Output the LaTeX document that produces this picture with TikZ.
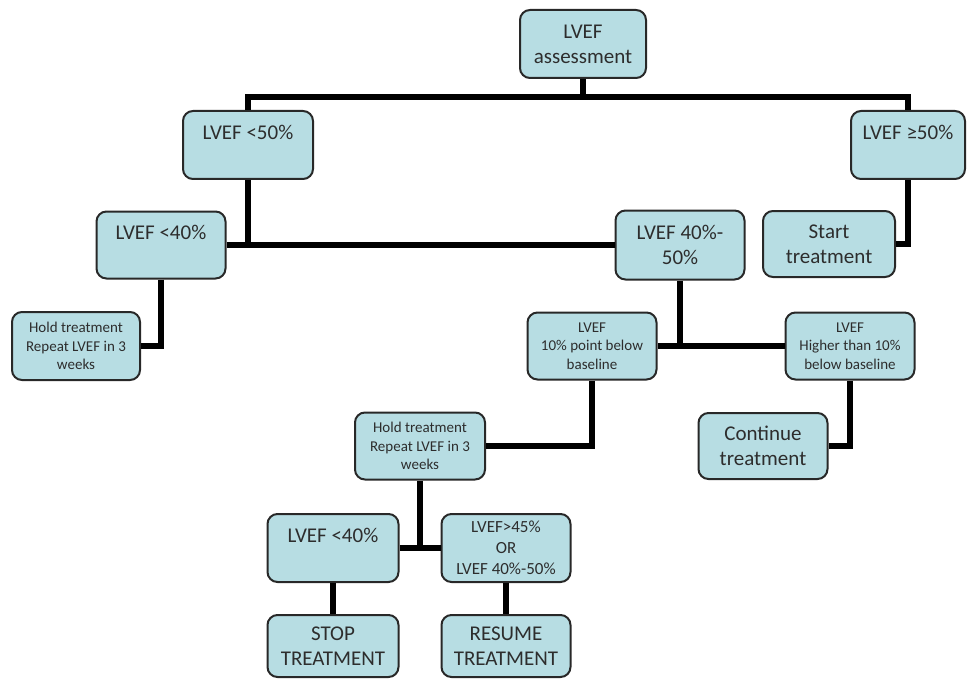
\documentclass[tikz,border=0pt]{standalone}
\usepackage{fontspec}
\setmainfont{Carlito}
\usepackage{tikz}
\definecolor{boxfill}{RGB}{183,221,227}
\definecolor{boxline}{RGB}{40,40,40}
\definecolor{boxtext}{RGB}{45,45,45}

\begin{document}
\begin{tikzpicture}[x=1pt,y=-1pt]
            \tikzset{
                box/.style={rectangle,rounded corners=10pt,draw=boxline,line width=2pt,
                    fill=boxfill,text=boxtext,align=center,inner sep=2pt,
                    minimum width=129pt,minimum height=67pt},
                big/.style={box,font=\fontsize{21}{25}\selectfont},
                mid/.style={box,font=\fontsize{17}{21}\selectfont},
                small/.style={box,font=\fontsize{15}{18.5}\selectfont},
                edge/.style={line width=5.5pt,black}
            }
            \useasboundingbox (0,0) rectangle (971,679);
            % vertices
            \node[big,minimum width=126pt,minimum height=68pt] (assess) at (583,44) {LVEF\\assessment};
            \node[big,minimum width=130pt,minimum height=68pt] (lt50) at (248,145) {LVEF <50\%\\~};
            \node[big,minimum width=114pt,minimum height=68pt] (ge50) at (908,145) {LVEF ≥50\%\\~};
            \node[big,minimum width=132pt,minimum height=66pt] (start) at (829,244) {Start\\treatment};
            \node[big] (lt40) at (161,245) {LVEF <40\%\\~};
            \node[big,minimum height=69pt] (midrange) at (680,245) {LVEF 40\%-\\50\%};
            \node[small,minimum width=128pt,minimum height=68pt] (holdA) at (76,346) {Hold treatment\\Repeat LVEF in 3\\weeks};
            \node[small] (drop) at (592,346) {LVEF\\10\% point below\\baseline};
            \node[small] (high) at (850,346) {LVEF\\Higher than 10\%\\below baseline};
            \node[big,minimum height=66pt] (cont) at (763,446) {Continue\\treatment};
            \node[small,minimum width=130pt] (holdB) at (420,446) {Hold treatment\\Repeat LVEF in 3\\weeks};
            \node[big,minimum width=131pt,minimum height=68pt] (lt40b) at (333,548) {LVEF <40\%\\~};
            \node[mid,minimum height=68pt] (ok45) at (506,548) {LVEF>45\%\\OR\\LVEF 40\%-50\%};
            \node[big,minimum width=131pt,minimum height=62pt] (stop) at (333,646) {STOP\\TREATMENT};
            \node[big,minimum height=62pt] (resume) at (506,646) {RESUME\\TREATMENT};
            \coordinate (topbar) at (583,97);

            %edges
            \draw[edge] (assess) -- (topbar);
            \draw[edge] (lt50.north) |- (topbar) -| (ge50.north);
            \draw[edge] (ge50) |- (start);
            \draw[edge] (lt40) -- (midrange);
            \draw[edge] (lt50) -- (lt50 |- lt40);
            \draw[edge] (lt40) |- (holdA);
            \draw[edge] (drop) -- (high);
            \draw[edge] (midrange) -- (midrange |- drop);
            \draw[edge] (high) |- (cont);
            \draw[edge] (drop) |- (holdB);
            \draw[edge] (lt40b) -- (ok45);
            \draw[edge] (holdB) -- (holdB |- lt40b);
            \draw[edge] (lt40b) -- (stop);
            \draw[edge] (ok45) -- (resume);
\end{tikzpicture}
\end{document}
